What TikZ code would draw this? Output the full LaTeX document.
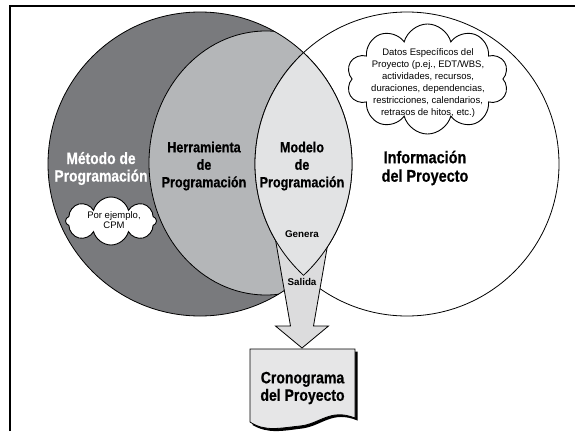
\documentclass[tikz,border=0pt]{standalone}
\usepackage{fontspec}
\setmainfont{Liberation Sans}
\newfontfamily\condfont{Liberation Sans}[FakeStretch=0.85, FakeBold=0.6]
\usetikzlibrary{shapes.symbols}

\definecolor{methodgray}{RGB}{121,122,125}
\definecolor{toolgray}{RGB}{180,182,184}
\definecolor{modelgray}{RGB}{226,227,228}
\definecolor{arrowgray}{RGB}{220,220,221}
\definecolor{docgray}{RGB}{230,230,231}

\tikzset{
  edge/.style={draw=black, line width=0.8pt},
  bigcircle/.style={edge},
  puffs/.style={cloud, draw=black, line width=0.9pt, fill=white, cloud ignores aspect, inner sep=0pt},
  biglabel/.style={font=\condfont\bfseries\fontsize{14.8}{17.5}\selectfont, align=center, inner sep=0pt},
  smalltext/.style={font=\fontsize{9.5}{12}\selectfont, align=center, inner sep=0pt},
  flowlabel/.style={font=\bfseries\fontsize{9.8}{12}\selectfont, inner sep=0pt},
}

\begin{document}
\begin{tikzpicture}[x=1pt, y=-1pt]
  \useasboundingbox (0,0) rectangle (575,431);
  \fill[white] (0,0) rectangle (575,431);

  % circle centres
  \coordinate (L) at (200,164);
  \coordinate (R) at (407,164);
  \coordinate (T) at (266,163);

  % page frame
  \draw[line width=1.5pt] (10,431) -- (10,6) -- (575,6);

  % scheduling method circle
  \fill[methodgray] (L) circle (152pt);

  % scheduling tool region
  \begin{scope}
    \clip (L) circle (152pt);
    \fill[toolgray] (T) ellipse (117pt and 132pt);
    \draw[edge] (T) ellipse (117pt and 132pt);
  \end{scope}

  \draw[bigcircle] (L) circle (152pt);
  \draw[bigcircle] (R) circle (152pt);

  % output arrow
  \draw[edge, fill=arrowgray, line join=miter]
    (273.8,230) -- (290.5,326) -- (275.5,326) -- (302,348)
    -- (328.5,326) -- (313.5,326) -- (330.2,230) -- cycle;

  % scheduling model (overlap of both circles)
  \begin{scope}
    \clip (L) circle (152pt);
    \fill[modelgray] (R) circle (152pt);
    \draw[edge] (R) circle (152pt);
  \end{scope}
  \begin{scope}
    \clip (R) circle (152pt);
    \draw[edge] (L) circle (152pt);
  \end{scope}

  % project schedule document with drop shadow
  \coordinate (D) at (302.5,388);
  \fill[black] (252.5,351.5) -- (357.5,351.5) -- (357.5,420.5)
    .. controls (332,410) and (322,426) .. (302,428.5)
    .. controls (282,431) and (268,434) .. (252.5,425) -- cycle;
  \draw[edge, fill=docgray]
    (250,349) -- (355,349) -- (355,418)
    .. controls (330,408) and (320,424) .. (300,426)
    .. controls (280,428) and (265,432) .. (250,422) -- cycle;

  % clouds
  \node[puffs, cloud puffs=10, minimum width=162pt, minimum height=110pt] (datacloud) at (427.5,79) {};
  \node[puffs, cloud puffs=8, minimum width=91pt, minimum height=48pt] (cpmcloud) at (111,221) {};

  % labels
  \node[biglabel, text=white, font=\condfont\bfseries\fontsize{16.3}{17.5}\selectfont] (method) at (101,168.5) {Método de\\Programación};
  \node[biglabel] (tool) at (204,166) {Herramienta\\de\\Programación};
  \node[biglabel] (model) at (302,166) {Modelo\\de\\Programación};
  \node[biglabel, font=\condfont\bfseries\fontsize{17}{18.5}\selectfont] (info) at (425,168) {Información\\del Proyecto};
  \node[biglabel, font=\condfont\bfseries\fontsize{16.5}{17.5}\selectfont] (schedule) at (D) {Cronograma\\del Proyecto};

  \node[smalltext] (data) at (428,83) {Datos Específicos del\\Proyecto (p.ej., EDT/WBS,\\actividades, recursos,\\duraciones, dependencias,\\restricciones, calendarios,\\retrasos de hitos, etc.)};
  \node[smalltext, font=\fontsize{9.5}{10.5}\selectfont] (example) at (114,220) {Por ejemplo,\\CPM};

  \node[flowlabel] (generates) at (302,234) {Genera};
  \node[flowlabel] (output) at (302,282) {Salida};
\end{tikzpicture}
\end{document}
